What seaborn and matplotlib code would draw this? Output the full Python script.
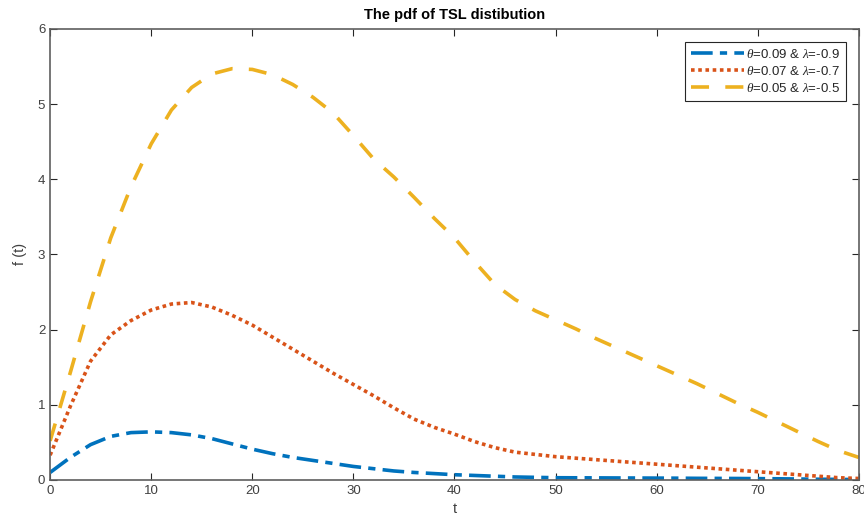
import numpy as np
import pandas as pd
import matplotlib
matplotlib.use('Agg')
import matplotlib.pyplot as plt
import seaborn as sns

t = list(range(0, 82, 2))

f_a = [0.10, 0.30, 0.47, 0.58, 0.63, 0.64, 0.63, 0.60, 0.55, 0.48,
       0.41, 0.35, 0.30, 0.26, 0.22, 0.18, 0.15, 0.12, 0.10, 0.085,
       0.07, 0.06, 0.05, 0.04, 0.035, 0.03, 0.029, 0.028, 0.027, 0.026,
       0.025, 0.024, 0.022, 0.021, 0.02, 0.018, 0.016, 0.013, 0.01, 0.008,
       0.005]
f_b = [0.33, 0.98, 1.58, 1.93, 2.12, 2.26, 2.34, 2.36, 2.30, 2.19,
       2.06, 1.90, 1.74, 1.58, 1.42, 1.27, 1.12, 0.96, 0.81, 0.70,
       0.61, 0.51, 0.43, 0.37, 0.34, 0.31, 0.29, 0.27, 0.25, 0.23,
       0.21, 0.19, 0.17, 0.15, 0.13, 0.11, 0.09, 0.07, 0.05, 0.03,
       0.02]
f_c = [0.52, 1.43, 2.37, 3.22, 3.90, 4.47, 4.92, 5.22, 5.40, 5.47,
       5.46, 5.39, 5.26, 5.09, 4.88, 4.58, 4.27, 4.03, 3.76, 3.48,
       3.22, 2.90, 2.60, 2.40, 2.25, 2.13, 2.01, 1.88, 1.76, 1.64,
       1.52, 1.40, 1.28, 1.15, 1.02, 0.90, 0.77, 0.64, 0.51, 0.39,
       0.30]

labels = [r'$\theta$=0.09 & $\lambda$=-0.9',
          r'$\theta$=0.07 & $\lambda$=-0.7',
          r'$\theta$=0.05 & $\lambda$=-0.5']
colors = ['#0072BD', '#D95319', '#EDB120']
dash_patterns = [(6, 2, 2, 2), (1, 1), (5, 4.5)]

plt.rcParams['font.family'] = ['Liberation Sans', 'DejaVu Sans']
plt.rcParams['mathtext.fontset'] = 'custom'
plt.rcParams['mathtext.it'] = 'Liberation Serif:italic'

fig = plt.figure(figsize=(8.64, 5.24), dpi=100)
ax = fig.add_axes([0.058, 0.084, 0.936, 0.861])

for vals, lab, col, dsh in zip([f_a, f_b, f_c], labels, colors, dash_patterns):
    sns.lineplot(x=t, y=vals, ax=ax, color=col, linewidth=2.6, label=lab)
    line = ax.lines[-1]
    line.set_dashes(dsh)
    line.set_dash_capstyle('butt')

ax.set_xlim(0, 80)
ax.set_ylim(0, 6)
ax.set_xticks(range(0, 90, 10))
ax.set_yticks(range(0, 7))

axis_col = '#5f5f5f'
for sp in ax.spines.values():
    sp.set_color(axis_col)
    sp.set_linewidth(1.2)
ax.tick_params(direction='in', length=5, width=0.8, color='#262626',
               labelsize=9.5, labelcolor='#404040',
               top=True, right=True)

ax.set_title('The pdf of TSL distibution', fontsize=10.5, fontweight='bold', pad=7)
ax.set_xlabel('t', fontsize=10.5, color='#404040', labelpad=4)
ax.set_ylabel('f (t)', fontsize=10.5, color='#404040', labelpad=8)

leg = ax.legend(loc='upper right', fontsize=9.5, handlelength=4.0,
                handletextpad=0.15, borderaxespad=1.0, fancybox=False,
                framealpha=1, edgecolor='#262626', borderpad=0.45,
                labelspacing=0.3)
leg.get_frame().set_linewidth(0.8)
for txt in leg.get_texts():
    txt.set_color('#262626')

fig.savefig('out.png', dpi=100)
